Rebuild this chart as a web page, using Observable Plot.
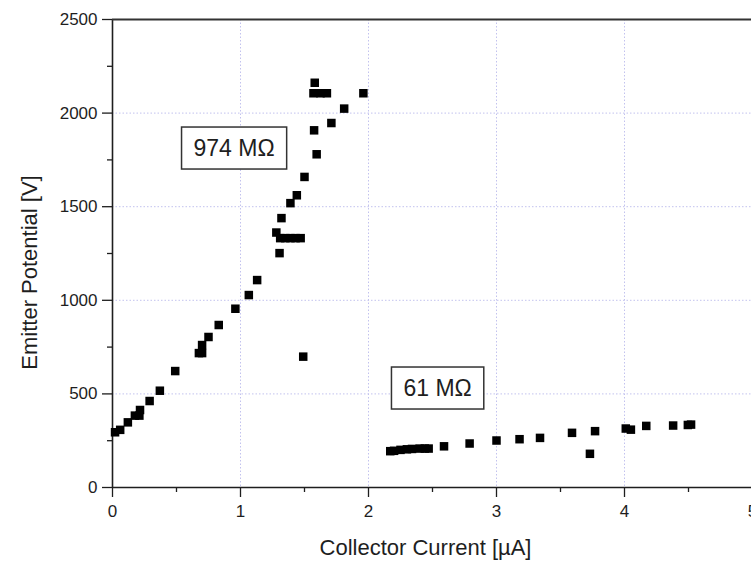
<!DOCTYPE html>
<html><head><meta charset="utf-8">
<script src="https://cdn.jsdelivr.net/npm/d3@7"></script>
<script src="https://cdn.jsdelivr.net/npm/@observablehq/plot@0.6"></script>
<style>body{margin:0;background:#fff} svg{display:block}</style>
</head><body><div id="chart"></div>
<script>
// 974 MΩ branch: collector current [µA] and emitter potential [V]
const currentHigh = [0.02, 0.06, 0.12, 0.175, 0.21, 0.215, 0.29, 0.37, 0.49, 0.675, 0.70, 0.70, 0.75, 0.83, 0.96, 1.065, 1.13,
  1.28, 1.305, 1.31, 1.35, 1.39, 1.43, 1.47, 1.32, 1.39, 1.44, 1.50, 1.575, 1.595, 1.58, 1.57, 1.625, 1.675, 1.71, 1.81, 1.96, 1.49];
const potentialHigh = [295, 308, 348, 384, 384, 414, 462, 517, 622, 718, 718, 761, 804, 868, 955, 1028, 1108,
  1362, 1252, 1332, 1332, 1332, 1332, 1332, 1439, 1519, 1561, 1659, 1908, 1780, 2162, 2106, 2106, 2106, 1947, 2024, 2106, 699];
// 61 MΩ branch
const currentLow = [2.17, 2.2, 2.25, 2.3, 2.34, 2.4, 2.44, 2.47, 2.59, 2.79, 3.0, 3.18, 3.34, 3.59, 3.73, 3.77, 4.01, 4.05, 4.17, 4.38, 4.495, 4.52];
const potentialLow = [194, 196, 201, 204, 206, 208, 208, 208, 220, 235, 251, 258, 265, 292, 180, 301, 315, 309, 329, 331, 334, 336];

const labelText = ["974 MΩ", "61 MΩ"];
const labelX = [0.95, 2.54];
const labelY = [1810, 528];

const xTicks = [0, 1, 2, 3, 4, 5];
const xMinor = [0.5, 1.5, 2.5, 3.5, 4.5];
const xGrid = [1, 2, 3, 4];
const yTicks = [0, 500, 1000, 1500, 2000, 2500];
const yMinor = [250, 750, 1250, 1750, 2250];
const yGrid = [500, 1000, 1500, 2000];
const xTitle = "Collector Current [µA]";
const yTitle = "Emitter Potential [V]";

const points = [
  ...currentHigh.map((x, i) => ({x, y: potentialHigh[i]})),
  ...currentLow.map((x, i) => ({x, y: potentialLow[i]}))
];
const labels = labelText.map((t, i) => ({x: labelX[i], y: labelY[i], t}));

const font = "'Liberation Sans', Arial, sans-serif";
const ink = "#1e1e1e";
const gridStyle = {stroke: "#c2c2ee", strokeOpacity: 1, strokeWidth: 1, strokeDasharray: "1.5,2"};

const chart = Plot.plot({
  width: 751, height: 562,
  marginLeft: 112, marginRight: -1, marginTop: 19, marginBottom: 75,
  style: {fontFamily: font, background: "white", color: ink},
  x: {domain: [0, 5], label: null},
  y: {domain: [0, 2500], label: null},
  marks: [
    Plot.gridX(xGrid, gridStyle),
    Plot.gridY(yGrid, gridStyle),
    Plot.axisX(xTicks, {tickSize: 10, tickPadding: 7, fontSize: 17, tickFormat: "d", strokeWidth: 1.3}),
    Plot.axisX(xMinor, {tickSize: 5, text: null, strokeWidth: 1.3}),
    Plot.axisY(yTicks, {tickSize: 10, tickPadding: 5, fontSize: 17, tickFormat: "d", strokeWidth: 1.3}),
    Plot.axisY(yMinor, {tickSize: 5, text: null, strokeWidth: 1.3}),
    Plot.ruleX([0], {stroke: ink, strokeWidth: 1.6}),
    Plot.ruleY([0], {stroke: ink, strokeWidth: 1.6}),
    Plot.ruleY([2500], {stroke: "#333", strokeWidth: 2.2}),
    Plot.dot(points, {x: "x", y: "y", symbol: "square", r: 4.8, fill: "black", stroke: null}),
    Plot.text(labels, {x: "x", y: "y", text: "t", fontSize: 23, fill: ink}),
    Plot.text([xTitle], {text: d => d, frameAnchor: "bottom", textAnchor: "middle", lineAnchor: "middle", dy: 60, dx: -7, fontSize: 22, fill: ink}),
    Plot.text([yTitle], {text: d => d, frameAnchor: "left", textAnchor: "middle", lineAnchor: "middle", rotate: -90, dx: -83, dy: 19, fontSize: 22, fill: ink})
  ]
});
document.getElementById("chart").append(chart);

// draw boxes around the resistance annotations
chart.querySelectorAll("text").forEach(t => {
  if (!t.textContent.includes("MΩ")) return;
  const b = t.getBBox();
  const padX = 12, padY = 8;
  const r = document.createElementNS("http://www.w3.org/2000/svg", "rect");
  r.setAttribute("x", b.x - padX);
  r.setAttribute("y", b.y - padY);
  r.setAttribute("width", b.width + 2 * padX);
  r.setAttribute("height", b.height + 2 * padY);
  const tf = t.getAttribute("transform");
  if (tf) r.setAttribute("transform", tf);
  r.setAttribute("fill", "white");
  r.setAttribute("stroke", "#333");
  r.setAttribute("stroke-width", "1.5");
  t.parentNode.insertBefore(r, t);
});
</script>
</body></html>
